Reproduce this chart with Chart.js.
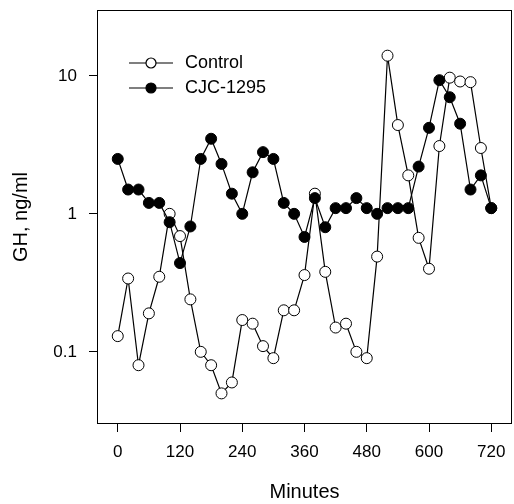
<!DOCTYPE html>
<html>
<head>
<meta charset="utf-8">
<script src="https://cdn.jsdelivr.net/npm/chart.js@4/dist/chart.umd.min.js"></script>
<style>
  html, body { margin: 0; padding: 0; background: #fff; }
  canvas { display: block; }
</style>
</head>
<body>
<canvas id="gh" width="514" height="504"></canvas>
<script>
// Sampling times (minutes)
const minutes = [0, 20, 40, 60, 80, 100, 120, 140, 160, 180, 200, 220, 240, 260, 280, 300, 320, 340, 360,
    380, 400, 420, 440, 460, 480, 500, 520, 540, 560, 580, 600, 620, 640, 660, 680, 700, 720];

// GH, ng/ml
const control = [0.13, 0.34, 0.08, 0.19, 0.35, 1.0, 0.69, 0.24, 0.1, 0.08, 0.05, 0.06, 0.17, 0.16, 0.11, 0.09, 0.2, 0.2, 0.36,
    1.4, 0.38, 0.15, 0.16, 0.1, 0.09, 0.49, 14, 4.4, 1.9, 0.67, 0.4, 3.1, 9.7, 9.1, 9.0, 3.0, 1.1];
const cjc1295 = [2.5, 1.5, 1.5, 1.2, 1.2, 0.87, 0.44, 0.81, 2.5, 3.5, 2.3, 1.4, 1.0, 2.0, 2.8, 2.5, 1.2, 1.0, 0.68,
    1.3, 0.8, 1.1, 1.1, 1.3, 1.1, 1.0, 1.1, 1.1, 1.1, 2.2, 4.2, 9.3, 7.0, 4.5, 1.5, 1.9, 1.1];

const xTicks = [0, 120, 240, 360, 480, 600, 720];
const yTicks = [0.1, 1, 10];

const FONT = "'Liberation Sans', Arial, Helvetica, sans-serif";

function toPoints(values) {
    return minutes.map(function (m, i) { return { x: m, y: values[i] }; });
}

// Box around the plot area
const frame = {
    id: 'frame',
    afterDraw: function (chart) {
        const a = chart.chartArea;
        const ctx = chart.ctx;
        ctx.save();
        ctx.strokeStyle = '#000';
        ctx.lineWidth = 1;
        ctx.strokeRect(Math.round(a.left) + 0.5, Math.round(a.top) + 0.5,
            Math.round(a.right - a.left) - 1, Math.round(a.bottom - a.top) - 1);
        ctx.restore();
    }
};

// Legend inside the plot: short line with a marker in the middle
const lineLegend = {
    id: 'lineLegend',
    afterDraw: function (chart) {
        const a = chart.chartArea;
        const ctx = chart.ctx;
        const x0 = a.left + 32;
        const y0 = a.top + 53;
        ctx.save();
        chart.data.datasets.forEach(function (ds, i) {
            const y = y0 + i * 25;
            ctx.strokeStyle = '#000';
            ctx.lineWidth = 1.2;
            ctx.beginPath();
            ctx.moveTo(x0, y);
            ctx.lineTo(x0 + 44, y);
            ctx.stroke();
            ctx.beginPath();
            ctx.arc(x0 + 22, y, 5, 0, Math.PI * 2);
            ctx.fillStyle = ds.pointBackgroundColor;
            ctx.fill();
            ctx.stroke();
            ctx.fillStyle = '#000';
            ctx.font = '18px ' + FONT;
            ctx.textBaseline = 'middle';
            ctx.textAlign = 'left';
            ctx.fillText(ds.label, x0 + 56, y);
        });
        ctx.restore();
    }
};

new Chart(document.getElementById('gh'), {
    type: 'line',
    data: {
        datasets: [
            {
                label: 'Control',
                data: toPoints(control),
                borderColor: '#000',
                borderWidth: 1.2,
                pointRadius: 5.5,
                pointBorderWidth: 1,
                pointBorderColor: '#000',
                pointBackgroundColor: '#fff',
                tension: 0,
                order: 1
            },
            {
                label: 'CJC-1295',
                data: toPoints(cjc1295),
                borderColor: '#000',
                borderWidth: 1.2,
                pointRadius: 5.5,
                pointBorderWidth: 1,
                pointBorderColor: '#000',
                pointBackgroundColor: '#000',
                tension: 0,
                order: 0
            }
        ]
    },
    options: {
        responsive: false,
        animation: false,
        clip: false,
        layout: { autoPadding: false, padding: { top: 10, right: 2, left: 0, bottom: 0 } },
        plugins: {
            legend: { display: false },
            tooltip: { enabled: false }
        },
        scales: {
            x: {
                type: 'linear',
                min: -40,
                max: 760,
                afterBuildTicks: function (scale) {
                    scale.ticks = xTicks.map(function (v) { return { value: v }; });
                },
                afterFit: function (scale) {
                    scale.height = 80;
                    scale.paddingLeft = 0;
                    scale.paddingRight = 0;
                },
                ticks: {
                    color: '#000',
                    font: { family: FONT, size: 17 },
                    padding: 10,
                    maxRotation: 0,
                    callback: function (v) { return String(v); }
                },
                grid: { drawOnChartArea: false, drawTicks: true, tickLength: 8, color: '#000' },
                border: { display: false },
                title: {
                    display: true,
                    text: 'Minutes',
                    color: '#000',
                    font: { family: FONT, size: 20 },
                    padding: { top: 0, bottom: 0 }
                }
            },
            y: {
                type: 'logarithmic',
                min: 0.03,
                max: 30,
                afterBuildTicks: function (scale) {
                    scale.ticks = yTicks.map(function (v) { return { value: v }; });
                },
                afterFit: function (scale) {
                    scale.width = 97;
                    scale.paddingTop = 0;
                    scale.paddingBottom = 0;
                },
                ticks: {
                    color: '#000',
                    font: { family: FONT, size: 17 },
                    padding: 12,
                    callback: function (v) { return String(v); }
                },
                grid: { drawOnChartArea: false, drawTicks: true, tickLength: 8, color: '#000' },
                border: { display: false },
                title: {
                    display: true,
                    text: 'GH, ng/ml',
                    color: '#000',
                    font: { family: FONT, size: 20 },
                    padding: { top: 9, bottom: 0 }
                }
            }
        }
    },
    plugins: [frame, lineLegend]
});
</script>
</body>
</html>
